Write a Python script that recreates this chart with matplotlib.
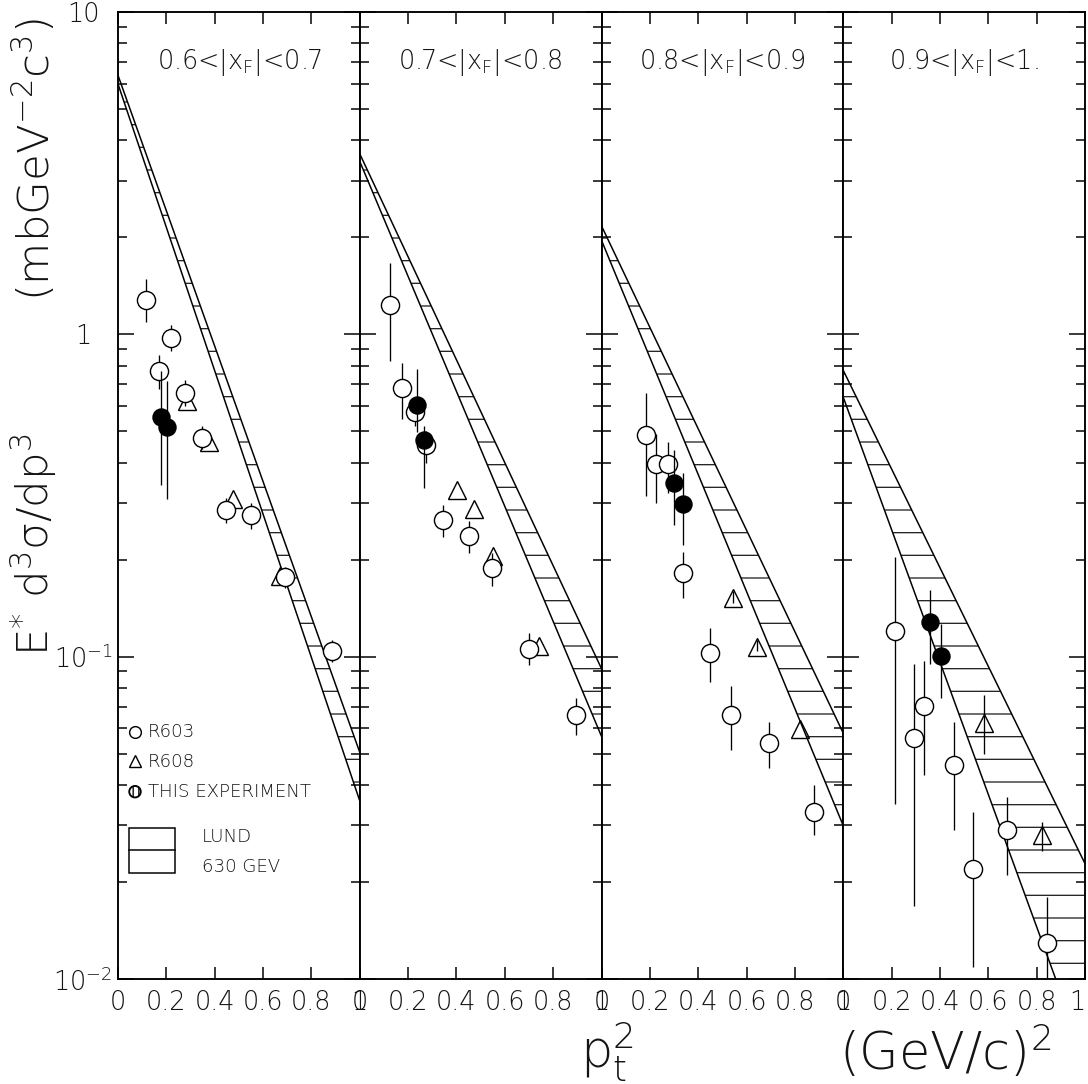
import numpy as np
import matplotlib
matplotlib.use("Agg")
import matplotlib.pyplot as plt
from matplotlib.patches import Rectangle, Ellipse

# ---------------- data ----------------
panel_titles = [r"0.6<|x$_\mathregular{F}$|<0.7", r"0.7<|x$_\mathregular{F}$|<0.8",
                r"0.8<|x$_\mathregular{F}$|<0.9", r"0.9<|x$_\mathregular{F}$|<1."]

x_ticks = [0, 0.2, 0.4, 0.6, 0.8, 1.0]
x_ticklabels = ["0", "0.2", "0.4", "0.6", "0.8", "1"]
y_ticks = [0.01, 0.1, 1, 10]
y_ticklabels = [r"$\mathregular{10^{-2}}$", r"$\mathregular{10^{-1}}$", "1", "10"]

# LUND 630 GeV band: values at pt^2 = 0 and 1
band_x = [0.0, 1.0]
band_lower = [[5.98, 0.0357], [3.44, 0.0566], [1.957, 0.0299], [0.638, 0.00564]]
band_upper = [[6.36, 0.0505], [3.63, 0.0918], [2.17, 0.0579], [0.773, 0.0228]]

# R603 (open circles)
r603_x = [[0.115, 0.171, 0.218, 0.276, 0.347, 0.447, 0.551, 0.689, 0.887],
          [0.125, 0.174, 0.229, 0.273, 0.345, 0.450, 0.547, 0.699, 0.894],
          [0.183, 0.224, 0.276, 0.337, 0.447, 0.537, 0.693, 0.880],
          [0.215, 0.291, 0.335, 0.457, 0.535, 0.678, 0.843]]
r603_y = [[1.28, 0.767, 0.975, 0.656, 0.476, 0.285, 0.275, 0.177, 0.104],
          [1.237, 0.684, 0.574, 0.453, 0.266, 0.236, 0.188, 0.106, 0.0659],
          [0.488, 0.397, 0.395, 0.182, 0.103, 0.0658, 0.054, 0.0329],
          [0.1197, 0.056, 0.0702, 0.0461, 0.0220, 0.0289, 0.01297]]
r603_hi = [[1.48, 0.863, 1.07, 0.723, 0.52, 0.31, 0.30, 0.190, 0.113],
           [1.66, 0.815, 0.63, 0.50, 0.296, 0.263, 0.210, 0.118, 0.0744],
           [0.660, 0.490, 0.465, 0.211, 0.123, 0.081, 0.0628, 0.0399],
           [0.204, 0.0949, 0.0972, 0.0628, 0.0329, 0.0368, 0.0179]]
r603_lo = [[1.09, 0.676, 0.89, 0.60, 0.44, 0.26, 0.249, 0.163, 0.096],
           [0.828, 0.548, 0.52, 0.40, 0.235, 0.210, 0.166, 0.094, 0.0571],
           [0.315, 0.300, 0.322, 0.152, 0.0835, 0.0512, 0.045, 0.0279],
           [0.035, 0.0169, 0.0428, 0.0289, 0.0109, 0.0210, 0.0095]]

# R608 (open triangles)
r608_x = [[0.287, 0.378, 0.477, 0.671],
          [0.402, 0.473, 0.552, 0.742],
          [0.542, 0.642, 0.820],
          [0.584, 0.823]]
r608_y = [[0.620, 0.462, 0.308, 0.178],
          [0.330, 0.288, 0.205, 0.108],
          [0.152, 0.1074, 0.0598],
          [0.0623, 0.0279]]
r608_hi = [[0.620, 0.462, 0.308, 0.178],
           [0.330, 0.288, 0.205, 0.108],
           [0.160, 0.113, 0.0598],
           [0.076, 0.0306]]
r608_lo = [[0.620, 0.462, 0.308, 0.178],
           [0.330, 0.288, 0.205, 0.108],
           [0.147, 0.104, 0.0598],
           [0.050, 0.025]]

# This experiment (filled circles)
this_x = [[0.177, 0.202], [0.236, 0.266], [0.299, 0.337], [0.360, 0.406]]
this_y = [[0.556, 0.514], [0.604, 0.469], [0.345, 0.297], [0.1285, 0.1005]]
this_hi = [[0.771, 0.718], [0.78, 0.519], [0.437, 0.372], [0.161, 0.1264]]
this_lo = [[0.340, 0.309], [0.497, 0.334], [0.256, 0.2215], [0.0949, 0.0742]]

# ---------------- figure ----------------
DPI = 136
W, H = 1088, 1084
plt.rcParams['font.family'] = ['DejaVu Sans']
plt.rcParams['font.weight'] = 200
plt.rcParams['hatch.linewidth'] = 0.7
plt.rcParams['mathtext.fontset'] = 'custom'
plt.rcParams['mathtext.rm'] = 'DejaVu Sans:weight=200'
plt.rcParams['mathtext.it'] = 'DejaVu Sans:weight=200'
plt.rcParams['mathtext.default'] = 'regular'
TXT = '0.08'

fig = plt.figure(figsize=(W / DPI, H / DPI), dpi=DPI)

left_px, right_px = 118, 1085
top_px, bot_px = 12, 979
pw = (right_px - left_px) / 4.0

def err(y, lo, hi):
    y = np.asarray(y); lo = np.asarray(lo); hi = np.asarray(hi)
    return np.vstack([y - lo, hi - y])

axes = []
for i in range(4):
    ax = fig.add_axes([(left_px + i * pw) / W, (H - bot_px) / H, pw / W, (bot_px - top_px) / H])
    axes.append(ax)
    ax.set_yscale('log')
    ax.set_xlim(0, 1)
    ax.set_ylim(0.01, 10)
    for s in ax.spines.values():
        s.set_linewidth(1.0)

    # band
    ax.fill_between(band_x, band_lower[i], band_upper[i], facecolor='none',
                    edgecolor='0.15', hatch='-', linewidth=0, zorder=1)
    ax.plot(band_x, band_lower[i], color='black', lw=0.8, zorder=2)
    ax.plot(band_x, band_upper[i], color='black', lw=0.8, zorder=2)

    ms = 9.6
    ax.errorbar(r608_x[i], r608_y[i], yerr=err(r608_y[i], r608_lo[i], r608_hi[i]),
                fmt='^', ms=ms, mfc='none', mec='black', mew=0.75,
                ecolor='black', elinewidth=0.7, capsize=0, zorder=3)
    ax.errorbar(r603_x[i], r603_y[i], yerr=err(r603_y[i], r603_lo[i], r603_hi[i]),
                fmt='o', ms=ms, mfc='white', mec='black', mew=0.75,
                ecolor='black', elinewidth=0.7, capsize=0, zorder=4)
    ax.errorbar(this_x[i], this_y[i], yerr=err(this_y[i], this_lo[i], this_hi[i]),
                fmt='o', ms=9.0, mfc='black', mec='black', mew=0.75,
                ecolor='black', elinewidth=0.7, capsize=0, zorder=5)

    ax.set_xticks(x_ticks)
    ax.set_xticklabels(x_ticklabels)
    ax.set_yticks(y_ticks)
    ax.yaxis.set_minor_formatter(matplotlib.ticker.NullFormatter())
    ax.tick_params(which='both', direction='in', top=True, right=True, bottom=True, left=True)
    ax.tick_params(axis='x', which='major', length=6.2, width=0.8, labelsize=13.5, pad=6)
    ax.tick_params(axis='y', which='major', length=8.5, width=0.8)
    ax.tick_params(axis='y', which='minor', length=5.0, width=0.8)
    xl = ax.get_xticklabels()
    for lab in xl:
        lab.set_color(TXT)
    if i == 3:
        xl[-1].set_horizontalalignment('right')
    if i == 0:
        ax.set_yticklabels(y_ticklabels)
        ax.tick_params(axis='y', which='major', labelsize=13.5, pad=18.5)
        for lab in ax.get_yticklabels():
            lab.set_horizontalalignment('center')
            lab.set_color(TXT)
    else:
        ax.tick_params(axis='y', which='both', labelleft=False)

    ax.text(0.5, (bot_px - 63) / (bot_px - top_px), panel_titles[i], transform=ax.transAxes,
            ha='center', va='center', fontsize=13.5, color=TXT)

# legend in first panel (axes coordinates)
ax = axes[0]
ah = bot_px - top_px
def ay(py):
    return (bot_px - py) / ah
def axx(px):
    return (px - left_px) / pw

ax.plot([axx(135)], [ay(731.7)], 'o', ms=6.2, mfc='white', mec='black', mew=0.75,
        transform=ax.transAxes, clip_on=False)
ax.plot([axx(135)], [ay(761.0)], '^', ms=6.6, mfc='none', mec='black', mew=0.75,
        transform=ax.transAxes, clip_on=False)
ax.add_patch(Ellipse((axx(135), ay(791.7)), 11.5 / pw, 11.5 / ah, transform=ax.transAxes,
                     facecolor='white', edgecolor='black', hatch='||||', lw=1.0))
for txt, py in [("R603", 731.7), ("R608", 761.7), ("THIS EXPERIMENT", 791.7)]:
    ax.text(axx(148), ay(py), txt, transform=ax.transAxes, ha='left', va='center',
            fontsize=9.6, color=TXT)
ax.add_patch(Rectangle((axx(129.3), ay(873.3)), 46 / pw, 45.6 / ah, transform=ax.transAxes,
                       facecolor='none', edgecolor='black', lw=0.8))
ax.plot([axx(129.3), axx(175.3)], [ay(850.3), ay(850.3)], color='black', lw=0.8,
        transform=ax.transAxes)
ax.text(axx(202), ay(836.7), "LUND", transform=ax.transAxes, ha='left', va='center',
        fontsize=9.6, color=TXT)
ax.text(axx(202), ay(866.7), "630 GEV", transform=ax.transAxes, ha='left', va='center',
        fontsize=9.6, color=TXT)

# axis labels
fig.text(34 / W, 1 - 545 / H, r"E$^{*}$ d$^{3}\sigma$/dp$^{3}$", rotation=90,
         ha='center', va='center', fontsize=23, color=TXT)
fig.text(34 / W, 1 - 160 / H, r"(mbGeV$^{-2}$c$^{3}$)", rotation=90,
         ha='center', va='center', fontsize=23, color=TXT)
fig.text(607 / W, 1 - 1052 / H, r"p$_{t}^{2}$", ha='center', va='center', fontsize=27, color=TXT)
fig.text(945 / W, 1 - 1052 / H, r"(GeV/c)$^{2}$", ha='center', va='center', fontsize=27, color=TXT)

fig.savefig("out.png", dpi=DPI)
